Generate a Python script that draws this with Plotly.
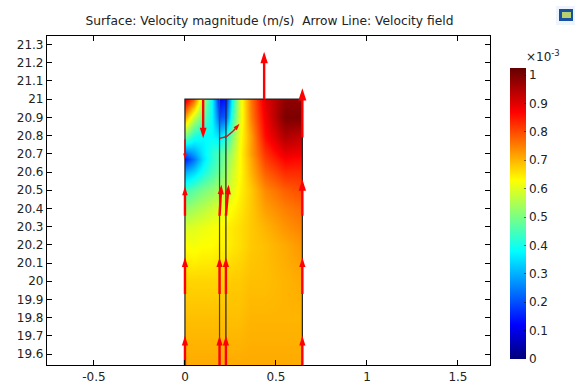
import plotly.graph_objects as go

title_text = "Surface: Velocity magnitude (m/s)  Arrow Line: Velocity field"
x_ticks = [-0.5, 0, 0.5, 1, 1.5]
x_labels = ["-0.5", "0", "0.5", "1", "1.5"]
y_ticks = [19.6, 19.7, 19.8, 19.9, 20, 20.1, 20.2, 20.3, 20.4, 20.5, 20.6, 20.7, 20.8, 20.9, 21, 21.1, 21.2, 21.3]
y_labels = ["19.6", "19.7", "19.8", "19.9", "20", "20.1", "20.2", "20.3", "20.4", "20.5", "20.6", "20.7", "20.8", "20.9", "21", "21.1", "21.2", "21.3"]
cb_ticks = [0, 0.1, 0.2, 0.3, 0.4, 0.5, 0.6, 0.7, 0.8, 0.9, 1]
cb_labels = ["0", "0.1", "0.2", "0.3", "0.4", "0.5", "0.6", "0.7", "0.8", "0.9", "1"]

grid_x = [0, 0.05, 0.1, 0.15, 0.19, 0.225, 0.26, 0.30, 0.36, 0.44, 0.55, 0.645]
grid_y = [19.54, 19.8, 20.0, 20.2, 20.3, 20.4, 20.5, 20.6, 20.67, 20.7, 20.8, 20.9, 21.0]
speed = [
    [.71, .71, .71, .71, .71, .71, .71, .71, .71, .71, .71, .71],
    [.69, .69, .69, .69, .69, .69, .69, .69, .70, .70, .70, .70],
    [.67, .67, .67, .67, .67, .67, .68, .68, .69, .69, .70, .71],
    [.63, .62, .63, .63, .64, .64, .65, .66, .68, .69, .71, .73],
    [.59, .60, .61, .62, .63, .64, .65, .66, .68, .70, .73, .75],
    [.52, .54, .56, .58, .60, .61, .63, .65, .68, .72, .75, .77],
    [.44, .47, .50, .52, .55, .57, .60, .64, .68, .74, .78, .80],
    [.30, .34, .40, .45, .49, .53, .58, .63, .70, .78, .83, .83],
    [.15, .24, .35, .42, .46, .51, .56, .63, .71, .81, .87, .86],
    [.22, .28, .36, .42, .46, .50, .55, .63, .72, .82, .89, .88],
    [.50, .41, .38, .38, .35, .40, .50, .62, .72, .86, .95, .93],
    [.72, .58, .48, .38, .20, .22, .42, .60, .75, .88, 1.0, 1.0],
    [.90, .78, .55, .38, .12, .15, .38, .60, .76, .90, .98, .98],
]

scale_stops = [0, .12, .38, .63, .87, 1.025]
scale_colors = ["#00007a", "#0000ff", "#00ffff", "#ffff00", "#ff0000", "#640000"]

outline_x = [[0, 0, 0.645, 0.645], [0.19, 0.19], [0.225, 0.225]]
outline_y = [[19.54, 21, 21, 19.54], [19.54, 21], [19.54, 21]]
outline_colors = ["#222222", "#4a4a20", "#222222"]

arrow_x = [
    [0, 0], [0.19, 0.19], [0.225, 0.225], [0.645, 0.645],
    [0, 0], [0.19, 0.19], [0.225, 0.225], [0.645, 0.645],
    [0, 0], [0.19, 0.2], [0.225, 0.24], [0.645, 0.645],
    [0, 0], [0.1, 0.1], [0.19, 0.23, 0.265, 0.30], [0.435, 0.435], [0.645, 0.645],
]
arrow_y = [
    [19.54, 19.70], [19.54, 19.70], [19.54, 19.70], [19.54, 19.70],
    [19.93, 20.13], [19.93, 20.13], [19.93, 20.13], [19.93, 20.13],
    [20.36, 20.52], [20.36, 20.53], [20.36, 20.53], [20.36, 20.56],
    [20.78, 20.67], [21, 20.785], [20.785, 20.795, 20.825, 20.865], [21, 21.26], [20.79, 21.06],
]
arrow_heads = [10, 10, 10, 10, 10, 10, 10, 10, 9, 10, 10, 12, 6, 11, 7, 12, 13]

# tiny duplicate edge rows/columns so the smoothed image stops at the domain boundary
edge = 0.0006
hm_x = [grid_x[0] - edge] + grid_x + [grid_x[-1] + edge]
hm_y = [grid_y[0] - edge] + grid_y + [grid_y[-1] + edge]
wide = [[r[0]] + r + [r[-1]] for r in speed]
hm_z = [wide[0]] + wide + [wide[-1]]

fig = go.Figure()
fig.add_trace(go.Heatmap(
    x=hm_x, y=hm_y, z=hm_z, zmin=scale_stops[0], zmax=scale_stops[-1], zsmooth="best",
    colorscale=[[s / scale_stops[-1], c] for s, c in zip(scale_stops, scale_colors)],
    colorbar=dict(
        x=(510 - 47) / 443, xanchor="left",
        y=(365 - 359) / 329, yanchor="bottom", lenmode="pixels", len=291,
        thicknessmode="pixels", thickness=16, xpad=0, ypad=0,
        outlinewidth=0, tickvals=cb_ticks, ticktext=cb_labels, ticks="inside", ticklen=2,
        tickcolor="rgba(0,0,0,0.5)", tickfont=dict(family="DejaVu Sans", size=12, color="#222222"),
    ),
    hoverinfo="skip",
))
for xs, ys, col in zip(outline_x, outline_y, outline_colors):
    fig.add_trace(go.Scatter(x=xs, y=ys, mode="lines", line=dict(color=col, width=1.2),
                             showlegend=False, hoverinfo="skip"))
for xs, ys, h in zip(arrow_x, arrow_y, arrow_heads):
    fig.add_trace(go.Scatter(
        x=xs, y=ys, mode="lines+markers", showlegend=False, hoverinfo="skip",
        line=dict(color="#ff0000" if h > 7 else "#dd1010", width=2.4 if h > 7 else 1.4),
        marker=dict(symbol=["circle"] * (len(xs) - 1) + ["arrow"], opacity=1,
                    size=[0] * (len(xs) - 1) + [h], color="#ff0000", angleref="previous",
                    line=dict(width=0)),
    ))

axis_common = dict(showgrid=False, zeroline=False, showline=True, linecolor="#000000", linewidth=1.2,
                   mirror="allticks", ticks="inside", ticklen=5, tickcolor="#000000", automargin=False,
                   tickfont=dict(family="DejaVu Sans", size=12, color="#222222"))
fig.update_layout(
    width=580, height=388, paper_bgcolor="white", plot_bgcolor="white",
    margin=dict(l=47, r=90, t=36, b=23),
    title=dict(text=title_text, x=269.5 / 580, xanchor="center", y=1 - 21 / 388, yanchor="middle",
               font=dict(family="DejaVu Sans", size=12.25, color="#222222")),
    xaxis=dict(range=[-0.758, 1.676], tickvals=x_ticks, ticktext=x_labels, **axis_common),
    yaxis=dict(range=[19.54, 21.347], tickvals=y_ticks, ticktext=y_labels, **axis_common),
)
def px(x): return (x - 47) / 443
def py(y): return 1 - (y - 36) / 329
fig.add_annotation(xref="paper", yref="paper", x=px(524), y=py(46), text="×10<sup>-3</sup>",
                   showarrow=False, xanchor="left", font=dict(family="DejaVu Sans", size=12, color="#222222"))
# small logo
fig.add_shape(type="rect", xref="paper", yref="paper", x0=px(556), x1=px(575), y0=py(25), y1=py(6),
              fillcolor="#eef4fb", line=dict(width=0))
fig.add_shape(type="rect", xref="paper", yref="paper", x0=px(559), x1=px(573), y0=py(21), y1=py(9),
              fillcolor="#17509e", line=dict(width=0))
fig.add_shape(type="rect", xref="paper", yref="paper", x0=px(562), x1=px(571), y0=py(18), y1=py(12),
              fillcolor="#b4d070", line=dict(width=0))
fig.write_html("out.html", config=dict(displayModeBar=False), post_script="document.body.style.margin='0';")
